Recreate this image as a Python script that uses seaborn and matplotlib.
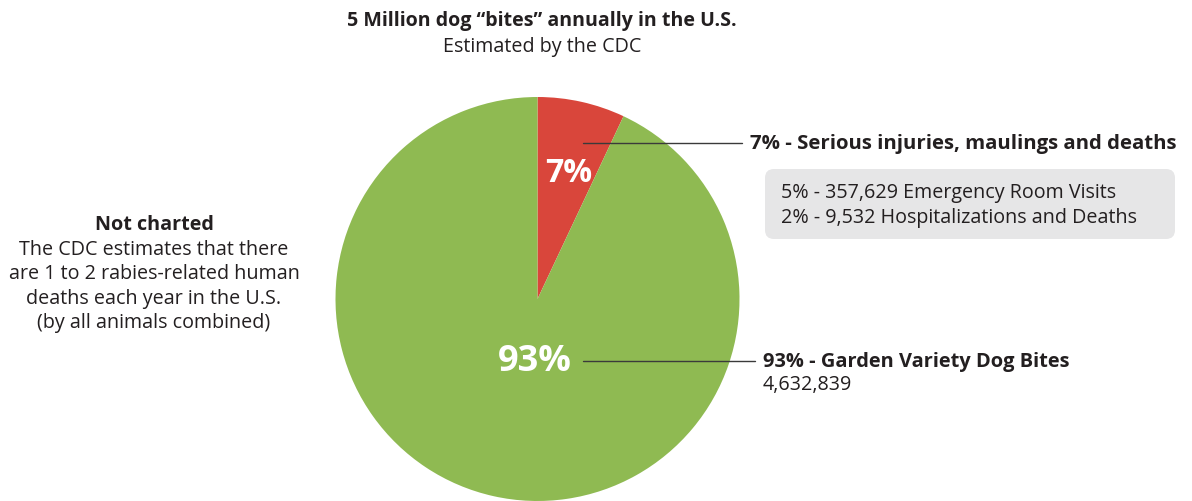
import matplotlib
matplotlib.use("Agg")
import matplotlib.pyplot as plt
import seaborn as sns
from matplotlib.patches import FancyBboxPatch

sns.set_theme(style="white")
plt.rcParams['font.family'] = ['Open Sans', 'DejaVu Sans']

# Data
categories = ["Serious injuries, maulings and deaths", "Garden Variety Dog Bites"]
shares = [7, 93]
pie_labels = ["7%", "93%"]
colors = ["#d9463b", "#8fba52"]
title = "5 Million dog \u201cbites\u201d annually in the U.S."
subtitle = "Estimated by the CDC"
serious_label = "7% - Serious injuries, maulings and deaths"
serious_detail = ["5% - 357,629 Emergency Room Visits", "2% - 9,532 Hospitalizations and Deaths"]
garden_label = "93% - Garden Variety Dog Bites"
garden_count = "4,632,839"
note_title = "Not charted"
note_lines = ["The CDC estimates that there", "are 1 to 2 rabies-related human",
              "deaths each year in the U.S.", "(by all animals combined)"]

W, H = 1192, 502
fig = plt.figure(figsize=(W / 100, H / 100), dpi=100)
ax = fig.add_axes([0, 0, 1, 1])

def Y(py):
    return H - py

cx, cy, r = 537.5, Y(300), 202
ax.pie(shares, colors=colors, startangle=90, counterclock=False,
       center=(cx, cy), radius=r, wedgeprops=dict(linewidth=0))
ax.set_xlim(0, W)
ax.set_ylim(0, H)
ax.set_aspect('equal')
ax.axis('off')

dark = "#231f20"
fs = 14.2

ax.text(542, Y(21), title, ha='center', va='center', fontsize=14.1, fontweight='bold', color=dark)
ax.text(542, Y(47), subtitle, ha='center', va='center', fontsize=fs, color=dark)

ax.text(569, Y(174), pie_labels[0], ha='center', va='center', fontsize=23, fontweight='bold', color='white')
ax.text(535, Y(362), pie_labels[1], ha='center', va='center', fontsize=26, fontweight='bold', color='white')

ax.plot([583, 742], [Y(144), Y(144)], color="#3a3a3a", lw=1)
ax.plot([583, 755], [Y(362), Y(362)], color="#3a3a3a", lw=1)

ax.text(750, Y(144), serious_label, ha='left', va='center', fontsize=14.7, fontweight='bold', color=dark)
box = FancyBboxPatch((765, Y(240)), 410, 70, boxstyle="round,pad=0,rounding_size=9",
                     facecolor="#e6e6e7", edgecolor='none')
ax.add_patch(box)
ax.text(781, Y(193), serious_detail[0], ha='left', va='center', fontsize=fs, color=dark)
ax.text(781, Y(218), serious_detail[1], ha='left', va='center', fontsize=fs, color=dark)

ax.text(763, Y(362), garden_label, ha='left', va='center', fontsize=14.4, fontweight='bold', color=dark)
ax.text(763, Y(385), garden_count, ha='left', va='center', fontsize=fs, color=dark)

ax.text(154, Y(225), note_title, ha='center', va='center', fontsize=14.2, fontweight='bold', color=dark)
for i, line in enumerate(note_lines):
    ax.text(154, Y(250 + 24.3 * i), line, ha='center', va='center', fontsize=fs, color=dark)

fig.savefig("out.png", dpi=100)
